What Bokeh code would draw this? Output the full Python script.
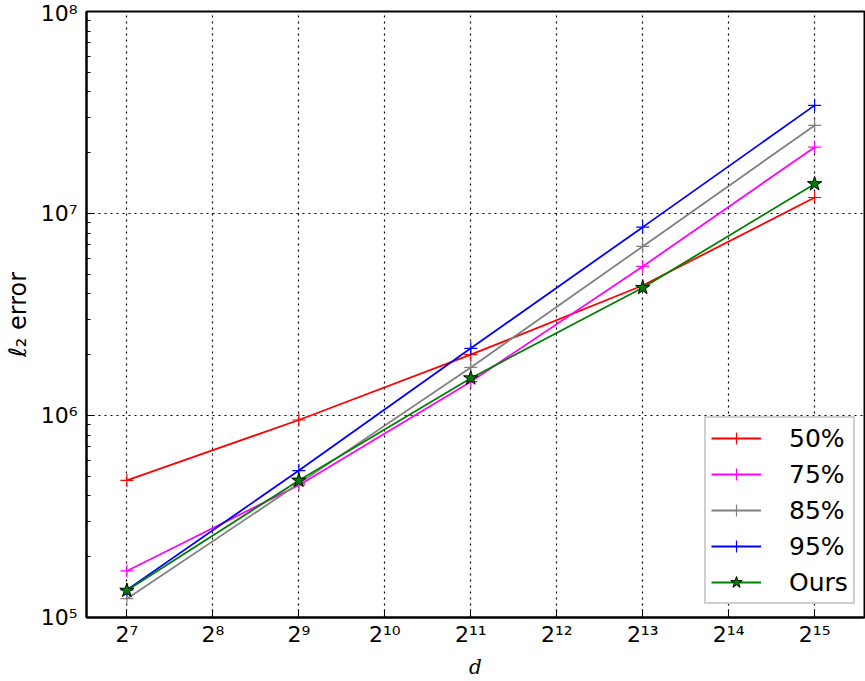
from bokeh.plotting import figure
from bokeh.models import Range1d, FixedTicker, Legend, LegendItem
from bokeh.embed import file_html
from bokeh.resources import INLINE

# ---- data ----
d_values = [128, 512, 2048, 8192, 32768]
err_50 = [4.77e5, 9.5e5, 2.0e6, 4.40e6, 1.20e7]
err_75 = [1.70e5, 4.52e5, 1.47e6, 5.47e6, 2.13e7]
err_85 = [1.24e5, 4.60e5, 1.73e6, 6.87e6, 2.73e7]
err_95 = [1.37e5, 5.34e5, 2.15e6, 8.56e6, 3.43e7]
err_ours = [1.36e5, 4.77e5, 1.53e6, 4.29e6, 1.40e7]
series_labels = ["50%", "75%", "85%", "95%", "Ours"]

x_tick_exps = [7, 8, 9, 10, 11, 12, 13, 14, 15]
y_tick_exps = [5, 6, 7, 8]

SUP = str.maketrans("0123456789", "⁰¹²³⁴⁵⁶⁷⁸⁹")
x_ticks = [2 ** e for e in x_tick_exps]
x_labels = {2 ** e: "2" + str(e).translate(SUP) for e in x_tick_exps}
y_ticks = [10.0 ** e for e in y_tick_exps]
y_labels = {10.0 ** e: "10" + str(e).translate(SUP) for e in y_tick_exps}
y_minor = [m * 10.0 ** e for e in [5, 6, 7] for m in range(2, 10)]

FONT = "DejaVu Sans"

p = figure(width=865, height=681, x_axis_type="log", y_axis_type="log",
           x_range=Range1d(2 ** 6.53, 2 ** 15.58), y_range=Range1d(1e5, 1e8),
           output_backend="svg", toolbar_location=None,
           min_border_left=83, min_border_right=1, min_border_top=11, min_border_bottom=0)
p.outline_line_color = "black"
p.outline_line_width = 2
p.background_fill_color = "white"
p.border_fill_color = "white"

xax = p.below[0]
yax = p.left[0]
xax.ticker = FixedTicker(ticks=x_ticks, minor_ticks=[])
xax.major_label_overrides = x_labels
yax.ticker = FixedTicker(ticks=y_ticks, minor_ticks=y_minor)
yax.major_label_overrides = y_labels

for ax in [xax, yax]:
    ax.axis_line_width = 2
    ax.axis_line_color = "black"
    ax.major_tick_in = 8
    ax.major_tick_out = 0
    ax.minor_tick_in = 4
    ax.minor_tick_out = 0
    ax.major_tick_line_color = "black"
    ax.minor_tick_line_color = "black"
    ax.major_label_text_font = FONT
    ax.major_label_text_font_size = "22px"
    ax.major_label_text_color = "black"

xax.major_label_standoff = 4
yax.major_label_standoff = 9

xax.axis_label = "d"
xax.axis_label_text_font = "DejaVu Serif"
xax.axis_label_text_font_style = "italic"
xax.axis_label_text_font_size = "20px"
xax.axis_label_text_color = "black"
xax.axis_label_standoff = 5

yax.axis_label = "ℓ₂ error"
yax.axis_label_text_font = FONT
yax.axis_label_text_font_style = "normal"
yax.axis_label_text_font_size = "24px"
yax.axis_label_text_color = "black"
yax.axis_label_standoff = 6

for g in [p.xgrid[0], p.ygrid[0]]:
    g.grid_line_color = "black"
    g.grid_line_dash = "2 4"
    g.grid_line_width = 1.2
    g.grid_line_alpha = 1.0

colors = ["#ff0000", "#ff00ff", "#808080", "#0000ff", "#008000"]
all_series = [err_50, err_75, err_85, err_95, err_ours]

items = []
for label, ys, c in zip(series_labels, all_series, colors):
    ln = p.line(d_values, ys, line_color=c, line_width=1.8)
    if label == "Ours":
        mk = p.scatter(d_values, ys, marker="star", size=15, fill_color=c,
                       line_color="black", line_width=1)
    else:
        mk = p.scatter(d_values, ys, marker="cross", size=13, line_color=c, line_width=1.2)
    items.append(LegendItem(label=label, renderers=[ln, mk]))

legend = Legend(items=items, location=(618, 13))
legend.label_text_font = FONT
legend.label_text_font_size = "25px"
legend.label_text_color = "black"
legend.glyph_width = 50
legend.glyph_height = 30
legend.label_standoff = 28
legend.spacing = 6
legend.padding = 5
legend.margin = 0
legend.border_line_color = "#a0a0a0"
legend.border_line_width = 2
legend.background_fill_color = "white"
legend.background_fill_alpha = 1
p.add_layout(legend, "center")

open("out.html", "w").write(file_html(p, INLINE))
